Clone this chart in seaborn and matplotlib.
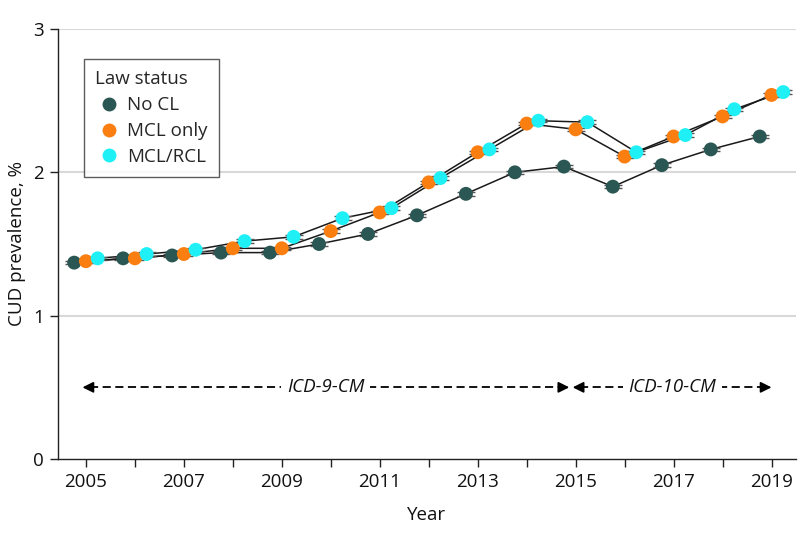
import numpy as np
import pandas as pd
import matplotlib
matplotlib.use("Agg")
import matplotlib.pyplot as plt
import seaborn as sns

# ---- data ----
years = list(range(2005, 2020))
statuses = ["No CL", "MCL only", "MCL/RCL"]

no_cl = [1.37, 1.40, 1.42, 1.44, 1.44, 1.50, 1.57, 1.70, 1.85, 2.00, 2.04, 1.90, 2.05, 2.16, 2.25]
mcl_only = [1.38, 1.40, 1.43, 1.47, 1.47, 1.59, 1.72, 1.93, 2.14, 2.34, 2.30, 2.11, 2.25, 2.39, 2.54]
mcl_rcl = [1.40, 1.43, 1.46, 1.52, 1.55, 1.68, 1.75, 1.96, 2.16, 2.36, 2.35, 2.14, 2.26, 2.44, 2.56]
ci_half = 0.012  # 95% CI half width, barely visible

colors = {"No CL": "#2a5753", "MCL only": "#fb7e10", "MCL/RCL": "#1ef0f6"}
dodge = {"No CL": -0.24, "MCL only": 0.0, "MCL/RCL": 0.24}

df = pd.DataFrame({
    "year": years * 3,
    "status": np.repeat(statuses, len(years)),
    "prevalence": no_cl + mcl_only + mcl_rcl,
})
df["xpos"] = df["year"] + df["status"].map(dodge)

sns.set_theme(style="white")
plt.rcParams["font.family"] = ["Open Sans", "DejaVu Sans"]
FS = 13.5
INK = "#111111"

fig = plt.figure(figsize=(7.98, 5.45), dpi=100)
ax = fig.add_axes([58 / 798, 86 / 545, 738 / 798, 430 / 545])

# horizontal gridlines
for gy in [1, 2, 3]:
    ax.axhline(gy, color="#d9d9d9", lw=1.5, zorder=0)

# black connecting lines
sns.lineplot(data=df, x="xpos", y="prevalence", units="status", estimator=None,
             color="#1a1a1a", lw=1.1, ax=ax, legend=False, zorder=2)

# confidence interval caps
ax.errorbar(df["xpos"], df["prevalence"], yerr=ci_half, fmt="none",
            ecolor="#555555", elinewidth=1, capsize=6.5, capthick=1, zorder=3)

# markers
sns.scatterplot(data=df, x="xpos", y="prevalence", hue="status", hue_order=statuses,
                palette=colors, s=100, edgecolor="none", linewidth=0, ax=ax, zorder=4)

# coding period annotations
def period(x0, x1, label):
    yv = 0.5
    ax.plot([x0 + 0.15, x1 - 0.15], [yv, yv], color="black", lw=1.3,
            dashes=(4.5, 2.5), zorder=2)
    for a, b in [(x0, x0 + 0.2), (x1, x1 - 0.2)]:
        ax.annotate("", xy=(a, yv), xytext=(b, yv),
                    arrowprops=dict(arrowstyle="-|>", color="black", lw=1.3,
                                    mutation_scale=16, shrinkA=0, shrinkB=0))
    ax.text((x0 + x1) / 2, yv, label, ha="center", va="center", fontsize=FS,
            style="italic", color=INK,
            bbox=dict(facecolor="white", edgecolor="none", pad=4), zorder=3)

period(2004.93, 2014.87, "ICD-9-CM")
period(2014.94, 2019.0, "ICD-10-CM")

ax.set_xlim(2004.43, 2019.5)
ax.set_ylim(0, 3)
ax.set_xticks(years)
ax.set_xticklabels([str(y) if y % 2 == 1 else "" for y in years])
ax.set_yticks([0, 1, 2, 3])
ax.set_yticklabels(["0", "1", "2", "3"])
ax.tick_params(axis="both", which="both", direction="out", length=6, width=1,
               color="#222222", labelsize=FS, pad=4, bottom=True, left=True,
               labelcolor=INK)

for side in ["top", "right"]:
    ax.spines[side].set_visible(False)
for side in ["left", "bottom"]:
    ax.spines[side].set_color("#222222")
    ax.spines[side].set_linewidth(1)

ax.set_xlabel("Year", fontsize=FS, labelpad=11, color=INK)
ax.set_ylabel("CUD prevalence, %", fontsize=FS, labelpad=5, color=INK)

leg = ax.legend(title="Law status", loc="upper left", bbox_to_anchor=(0.035, 0.93),
                borderaxespad=0, frameon=True, fontsize=FS, title_fontsize=FS,
                fancybox=False, edgecolor="#333333", handletextpad=0.2,
                borderpad=0.6, labelspacing=0.42, handlelength=1.5)
leg._legend_box.align = "left"
leg.get_frame().set_linewidth(1)

fig.savefig("out.png", dpi=100)
